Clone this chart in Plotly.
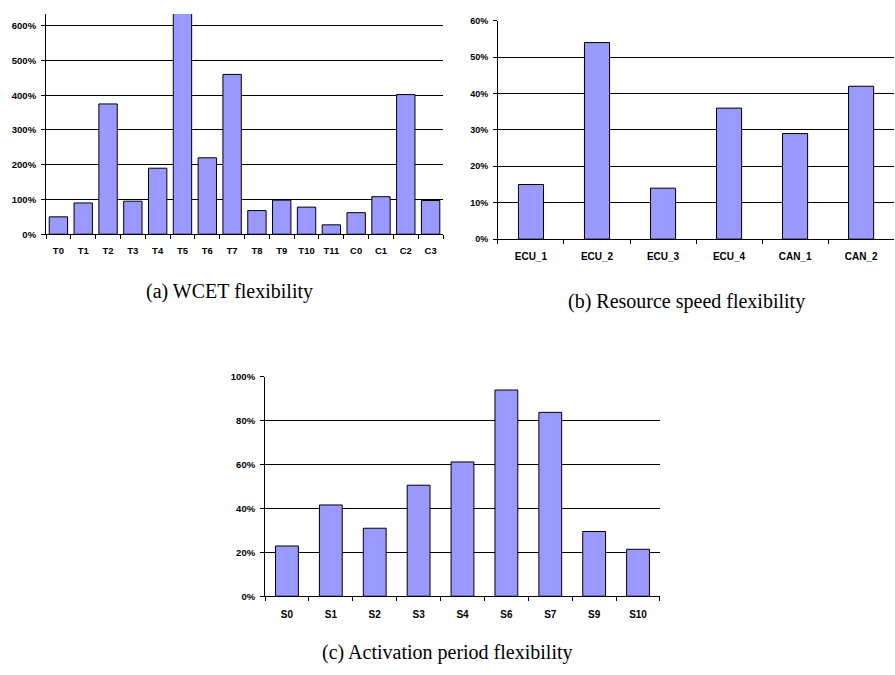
import plotly.graph_objects as go

# (a) WCET flexibility
cats_a = ["T0", "T1", "T2", "T3", "T4", "T5", "T6", "T7", "T8", "T9", "T10", "T11", "C0", "C1", "C2", "C3"]
vals_a = [50, 90, 375, 95, 190, 660, 220, 460, 68, 98, 78, 27, 62, 108, 402, 97]
ticks_a = [0, 100, 200, 300, 400, 500, 600]

# (b) Resource speed flexibility
cats_b = ["ECU_1", "ECU_2", "ECU_3", "ECU_4", "CAN_1", "CAN_2"]
vals_b = [15, 54, 14, 36, 29, 42]
ticks_b = [0, 10, 20, 30, 40, 50, 60]

# (c) Activation period flexibility
cats_c = ["S0", "S1", "S2", "S3", "S4", "S6", "S7", "S9", "S10"]
vals_c = [22.9, 41.6, 31, 50.6, 61.2, 94, 83.8, 29.5, 21.4]
ticks_c = [0, 20, 40, 60, 80, 100]

captions = ["(a) WCET flexibility", "(b) Resource speed flexibility", "(c) Activation period flexibility"]

BAR = "#9999FF"
SANS = "Liberation Sans, Arial, sans-serif"

fig = go.Figure()
for i, (c, v, w) in enumerate([(cats_a, vals_a, 0.74), (cats_b, vals_b, 0.38), (cats_c, vals_c, 0.52)]):
    sfx = "" if i == 0 else str(i + 1)
    fig.add_trace(go.Bar(x=c, y=v, xaxis="x" + sfx, yaxis="y" + sfx, width=w,
                         marker=dict(color=BAR, line=dict(color="black", width=1)),
                         showlegend=False, hoverinfo="x+y"))

def xax(domain, anchor, fs, so):
    return dict(domain=domain, anchor=anchor, type="category", tickson="boundaries",
                ticks="outside", ticklen=4, tickcolor="black", showline=True, linecolor="black",
                linewidth=1, showgrid=False, tickangle=0, ticklabelstandoff=so,
                tickfont=dict(family=SANS, size=fs, color="black", weight="bold"),
                fixedrange=True)

def yax(domain, anchor, rng, tv, fs):
    return dict(domain=domain, anchor=anchor, range=rng, tickvals=tv, ticktext=[f"{t}%" for t in tv],
                ticks="outside", ticklen=4, tickcolor="black", showline=True, linecolor="black",
                linewidth=1, showgrid=True, gridcolor="black", gridwidth=1, zeroline=False,
                ticklabelstandoff=3,
                tickfont=dict(family=SANS, size=fs, color="black", weight="bold"),
                fixedrange=True)

fig.update_layout(
    width=895, height=675, margin=dict(l=0, r=0, t=0, b=0),
    paper_bgcolor="white", plot_bgcolor="white",
    xaxis=xax([0.0514, 0.495], "y", 9.5, 7),
    yaxis=yax([0.6563, 0.988], "x", [0, 634], ticks_a, 9.5),
    xaxis2=xax([0.5564, 0.999], "y2", 10, 8),
    yaxis2=yax([0.6489, 0.9778], "x2", [0, 60], ticks_b, 9),
    xaxis3=xax([0.2961, 0.7374], "y3", 10, 9),
    yaxis3=yax([0.1111, 0.4415], "x3", [0, 100], ticks_c, 9.5),
)

cap_pos = [(229, 290), (686, 300), (447, 657)]
for txt, (cx, cy) in zip(captions, cap_pos):
    fig.add_annotation(text=txt, x=cx / 895, y=1 - cy / 675, xref="paper", yref="paper",
                       showarrow=False, xanchor="center", yanchor="middle",
                       font=dict(family="Liberation Serif, Times New Roman, serif", size=20, color="black"))

fig.write_html("out.html", config={"displayModeBar": False},
               post_script="document.body.style.margin='0px';")
